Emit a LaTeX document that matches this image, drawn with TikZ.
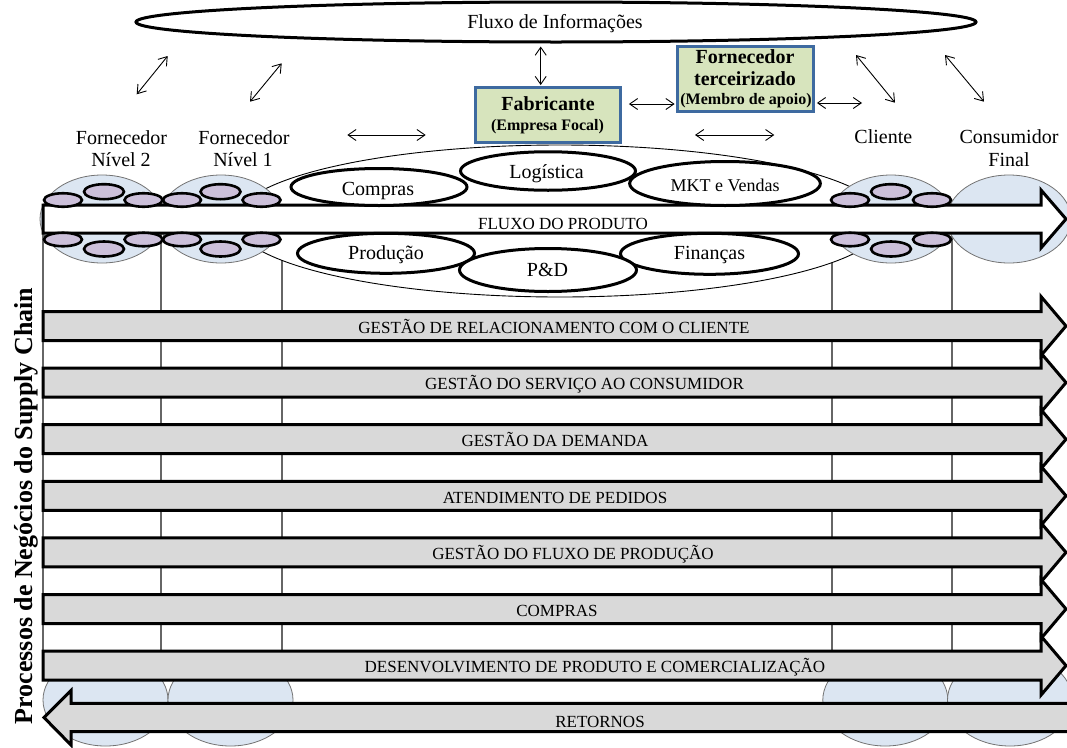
\documentclass[tikz,border=0pt]{standalone}
\usepackage{fontspec}
\setmainfont{Liberation Serif}
\usetikzlibrary{shapes.geometric,arrows.meta}
\definecolor{bluecirc}{HTML}{DCE6F2}
\definecolor{purp}{HTML}{CCC0DA}
\definecolor{bannergray}{HTML}{D9D9D9}
\definecolor{greenbox}{HTML}{D7E4BD}
\definecolor{boxborder}{HTML}{3E6AA0}
\newcommand{\fsz}[1]{\fontsize{#1}{#1}\selectfont}
\begin{document}
\begin{tikzpicture}[x=1pt,y=-1pt,
  bigcirc/.style={ellipse, draw=black!55, line width=0.8pt, fill=bluecirc, minimum width=124pt, minimum height=88pt, inner sep=0pt},
  purpell/.style={ellipse, draw=black, line width=2.6pt, fill=purp, minimum width=38pt, minimum height=13.5pt, inner sep=0pt},
  purpmid/.style={purpell, minimum width=40pt, minimum height=15pt},
  funcell/.style={ellipse, draw=black, line width=3pt, fill=white, inner sep=0pt},
  gridline/.style={draw=black!60, line width=1.2pt},
  banner/.style={draw=black, line width=3pt, fill=bannergray, line join=miter},
  bantext/.style={anchor=base, inner sep=0pt, font=\fsz{17}},
  lbl/.style={anchor=base, inner sep=0pt, font=\fsz{20}},
  blbl/.style={anchor=base, inner sep=0pt, font=\fsz{20}\bfseries},
  sblbl/.style={anchor=base, inner sep=0pt, font=\fsz{16}\bfseries},
  dbl/.style={{Straight Barb[length=8pt,width=11pt]}-{Straight Barb[length=8pt,width=11pt]}, line width=0.9pt},
  gbox/.style={draw=boxborder, line width=2.8pt, fill=greenbox, inner sep=0pt},
]
\clip (0,0) rectangle (1067,747);
\fill[white] (0,0) rectangle (1067,747);

% grid lines
\foreach \gx in {43,161,282,832,952} \draw[gridline] (\gx,219) -- (\gx,650);

% focal firm big ellipse
\node[ellipse, draw, line width=0.9pt, fill=white, minimum width=650pt, minimum height=152pt, inner sep=0pt] (firm) at (560,221) {};

% light blue member circles
\node[bigcirc] (c1) at (102,219) {};
\node[bigcirc] (c2) at (221,219) {};
\node[bigcirc] (c3) at (891,219) {};
\node[bigcirc] (c4) at (1009,219) {};
\node[bigcirc, minimum width=125pt, minimum height=92pt] (r1) at (105.5,700) {};
\node[bigcirc, minimum width=125pt, minimum height=92pt] (r2) at (230.5,700) {};
\node[bigcirc, minimum width=125pt, minimum height=92pt] (r3) at (885.3,700) {};
\node[bigcirc, minimum width=125pt, minimum height=92pt] (r4) at (1010,700) {};

% product flow arrow
\draw[line width=3pt, fill=white, line join=miter] (43,205) -- (1041,205) -- (1041,190) -- (1066,219) -- (1041,248) -- (1041,233) -- (43,233) -- cycle;
\node[bantext] (fp) at (563,229.3) {FLUXO DO PRODUTO};

% purple ellipses
\foreach \px [count=\i] in {63,143.5,182,261.5,850,932} {
  \node[purpell] (pt\i) at (\px,200) {};
  \node[purpell] (pb\i) at (\px,239.5) {};
}
\foreach \px [count=\i] in {104,220.5,891} {
  \node[purpmid] (mt\i) at (\px,191.7) {};
  \node[purpmid] (mb\i) at (\px,249) {};
}

% functional ellipses
\node[funcell, minimum width=176pt, minimum height=37pt] (compras) at (379,187) {};
\node[funcell, minimum width=175pt, minimum height=38.5pt] (log) at (548,171) {};
\node[funcell, minimum width=190.7pt, minimum height=44pt] (mkt) at (725,183.5) {};
\node[funcell, minimum width=177pt, minimum height=40pt] (prod) at (386,253.3) {};
\node[funcell, minimum width=178pt, minimum height=41pt] (fin) at (709.5,253.8) {};
\node[funcell, minimum width=177pt, minimum height=43pt] (pd) at (548,270) {};
\node[lbl] (tcompras) at (378,195) {Compras};
\node[lbl] (tlog) at (546.5,178.3) {Logística};
\node[anchor=base, inner sep=0pt, font=\fsz{18}] (tmkt) at (725,191) {MKT e Vendas};
\node[lbl] (tprod) at (386,259.3) {Produção};
\node[lbl] (tpd) at (547.5,276) {P\&D};
\node[lbl] (tfin) at (709.5,259.3) {Finanças};

% process banners
\foreach \yc/\tx/\txt [count=\i] in {326/554/{GESTÃO DE RELACIONAMENTO COM O CLIENTE},
    382.6/584.5/{GESTÃO DO SERVIÇO AO CONSUMIDOR},
    439.2/555/{GESTÃO DA DEMANDA},
    495.8/555/{ATENDIMENTO DE PEDIDOS},
    552.4/573/{GESTÃO DO FLUXO DE PRODUÇÃO},
    609/557/{COMPRAS},
    665.6/595/{DESENVOLVIMENTO DE PRODUTO E COMERCIALIZAÇÃO}} {
  \draw[banner] (43,{\yc-14.5}) -- (1041,{\yc-14.5}) -- (1041,{\yc-29.5}) -- (1066,\yc)
     -- (1041,{\yc+29.5}) -- (1041,{\yc+14.5}) -- (43,{\yc+14.5}) -- cycle;
  \node[bantext] (b\i) at (\tx,{\yc+7.3}) {\txt};
}

% returns arrow
\draw[banner] (1080,703.3) -- (71,703.3) -- (71,690.5) -- (44,717.5) -- (71,745) -- (71,731.7) -- (1080,731.7) -- cycle;
\node[bantext] (ret) at (600,727.7) {RETORNOS};

% information flow
\node[ellipse, draw, line width=3pt, fill=white, minimum width=840pt, minimum height=40pt, inner sep=0pt] (info) at (556,22) {};
\node[lbl] (tinfo) at (555,28.3) {Fluxo de Informações};

% boxes
\node[gbox, minimum width=145pt, minimum height=55pt] (fab) at (548,115) {};
\node[blbl] (tfab1) at (548,110.7) {Fabricante};
\node[sblbl] (tfab2) at (547.5,130) {(Empresa Focal)};
\node[gbox, minimum width=136pt, minimum height=65pt] (ft) at (745.5,79) {};
\node[blbl] (tft1) at (745,63.3) {Fornecedor};
\node[blbl] (tft2) at (745,85) {terceirizado};
\node[sblbl] (tft3) at (746,104) {(Membro de apoio)};

% arrows
\coordinate (fabtop) at ([xshift=-7.3pt]fab.north);
\draw[dbl, shorten <=3pt] (fabtop |- info.south) -- ([yshift=1pt]fabtop);
\coordinate (fabr) at ([xshift=7pt,yshift=11pt]fab.east);
\draw[dbl, shorten >=1.5pt] (fabr) -- (fabr -| ft.west);
\coordinate (ftr) at ([xshift=2pt,yshift=-24pt]ft.east);
\coordinate (ftrr) at (862,103);
\draw[dbl] (ftr) -- (ftrr);

\coordinate (d1a) at (136.7,94.3); \coordinate (d1b) at (167.7,56);
\coordinate (d2a) at (250,101.7);  \coordinate (d2b) at (281.7,63.3);
\coordinate (d3a) at (856,55);     \coordinate (d3b) at (895,102.7);
\coordinate (d4a) at (945,55);     \coordinate (d4b) at (984,101.7);
\coordinate (m1a) at (347.3,135);  \coordinate (m1b) at (425.7,135);
\coordinate (m2a) at (695,135);    \coordinate (m2b) at (774.3,135);
\draw[dbl] (d1a) -- (d1b);
\draw[dbl] (d2a) -- (d2b);
\draw[dbl] (d3a) -- (d3b);
\draw[dbl] (d4a) -- (d4b);
\draw[dbl] (m1a) -- (m1b);
\draw[dbl] (m2a) -- (m2b);

% member labels
\node[lbl] (f2a) at (121.5,144) {Fornecedor};
\node[lbl] (f2b) at (121,166.7) {Nível 2};
\node[lbl] (f1a) at (244,144) {Fornecedor};
\node[lbl] (f1b) at (243,166.7) {Nível 1};
\node[lbl] (cli) at (883.3,143.3) {Cliente};
\node[lbl] (cfa) at (1009,143.3) {Consumidor};
\node[lbl] (cfb) at (1009,166.7) {Final};

% side label
\node[anchor=base, rotate=90, inner sep=0pt, font=\fsz{26}\bfseries] (side) at (32.3,506) {Processos de Negócios do Supply Chain};
\end{tikzpicture}
\end{document}
